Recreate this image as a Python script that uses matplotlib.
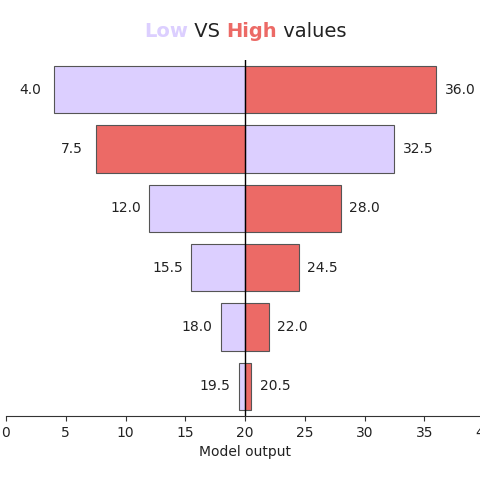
import matplotlib
matplotlib.use("Agg")
import matplotlib.pyplot as plt

categories = ["A", "B", "C", "D", "E", "F"]
low_values = [4.0, 32.5, 12.0, 15.5, 18.0, 19.5]
high_values = [36.0, 7.5, 28.0, 24.5, 22.0, 20.5]
base = 20.0

low_color = "#dccfff"
high_color = "#ec6a66"

fig = plt.figure(figsize=(4.8, 4.8), dpi=100)
ax = fig.add_axes([6/480, 64/480, 478/480, 356/480])

for i, (lo, hi) in enumerate(zip(low_values, high_values)):
    ax.barh(i, lo - base, left=base, height=0.8, color=low_color,
            edgecolor="#555555", linewidth=0.8)
    ax.barh(i, hi - base, left=base, height=0.8, color=high_color,
            edgecolor="#555555", linewidth=0.8)
    mn, mx = min(lo, hi), max(lo, hi)
    ax.text(mn - 2, i, f"{mn:.1f}", ha="center", va="center", fontsize=10, color="#222222")
    ax.text(mx + 2, i, f"{mx:.1f}", ha="center", va="center", fontsize=10, color="#222222")

ax.axvline(base, color="black", linewidth=1)
ax.set_xlim(0, 40)
ax.set_ylim(5.5, -0.5)
ax.set_yticks([])
for s in ["top", "left", "right"]:
    ax.spines[s].set_visible(False)
ax.spines["bottom"].set_color("#333333")
ax.tick_params(axis="x", colors="#333333", labelcolor="#222222", labelsize=10)
ax.set_xlabel("Model output", fontsize=10, color="#222222")

# multicolour title
fs = 14
t1 = fig.text(0.30, 0.935, "Low", color=low_color, fontsize=fs, fontweight="bold", va="center", ha="left")
t2 = ax.annotate(" VS ", xycoords=t1, xy=(1, 0), va="bottom", ha="left", fontsize=fs, color="#222222", annotation_clip=False)
t3 = ax.annotate("High", xycoords=t2, xy=(1, 0), va="bottom", ha="left", fontsize=fs, color=high_color, fontweight="bold", annotation_clip=False)
t4 = ax.annotate(" values", xycoords=t3, xy=(1, 0), va="bottom", ha="left", fontsize=fs, color="#222222", annotation_clip=False)

fig.savefig("out.png", dpi=100)
